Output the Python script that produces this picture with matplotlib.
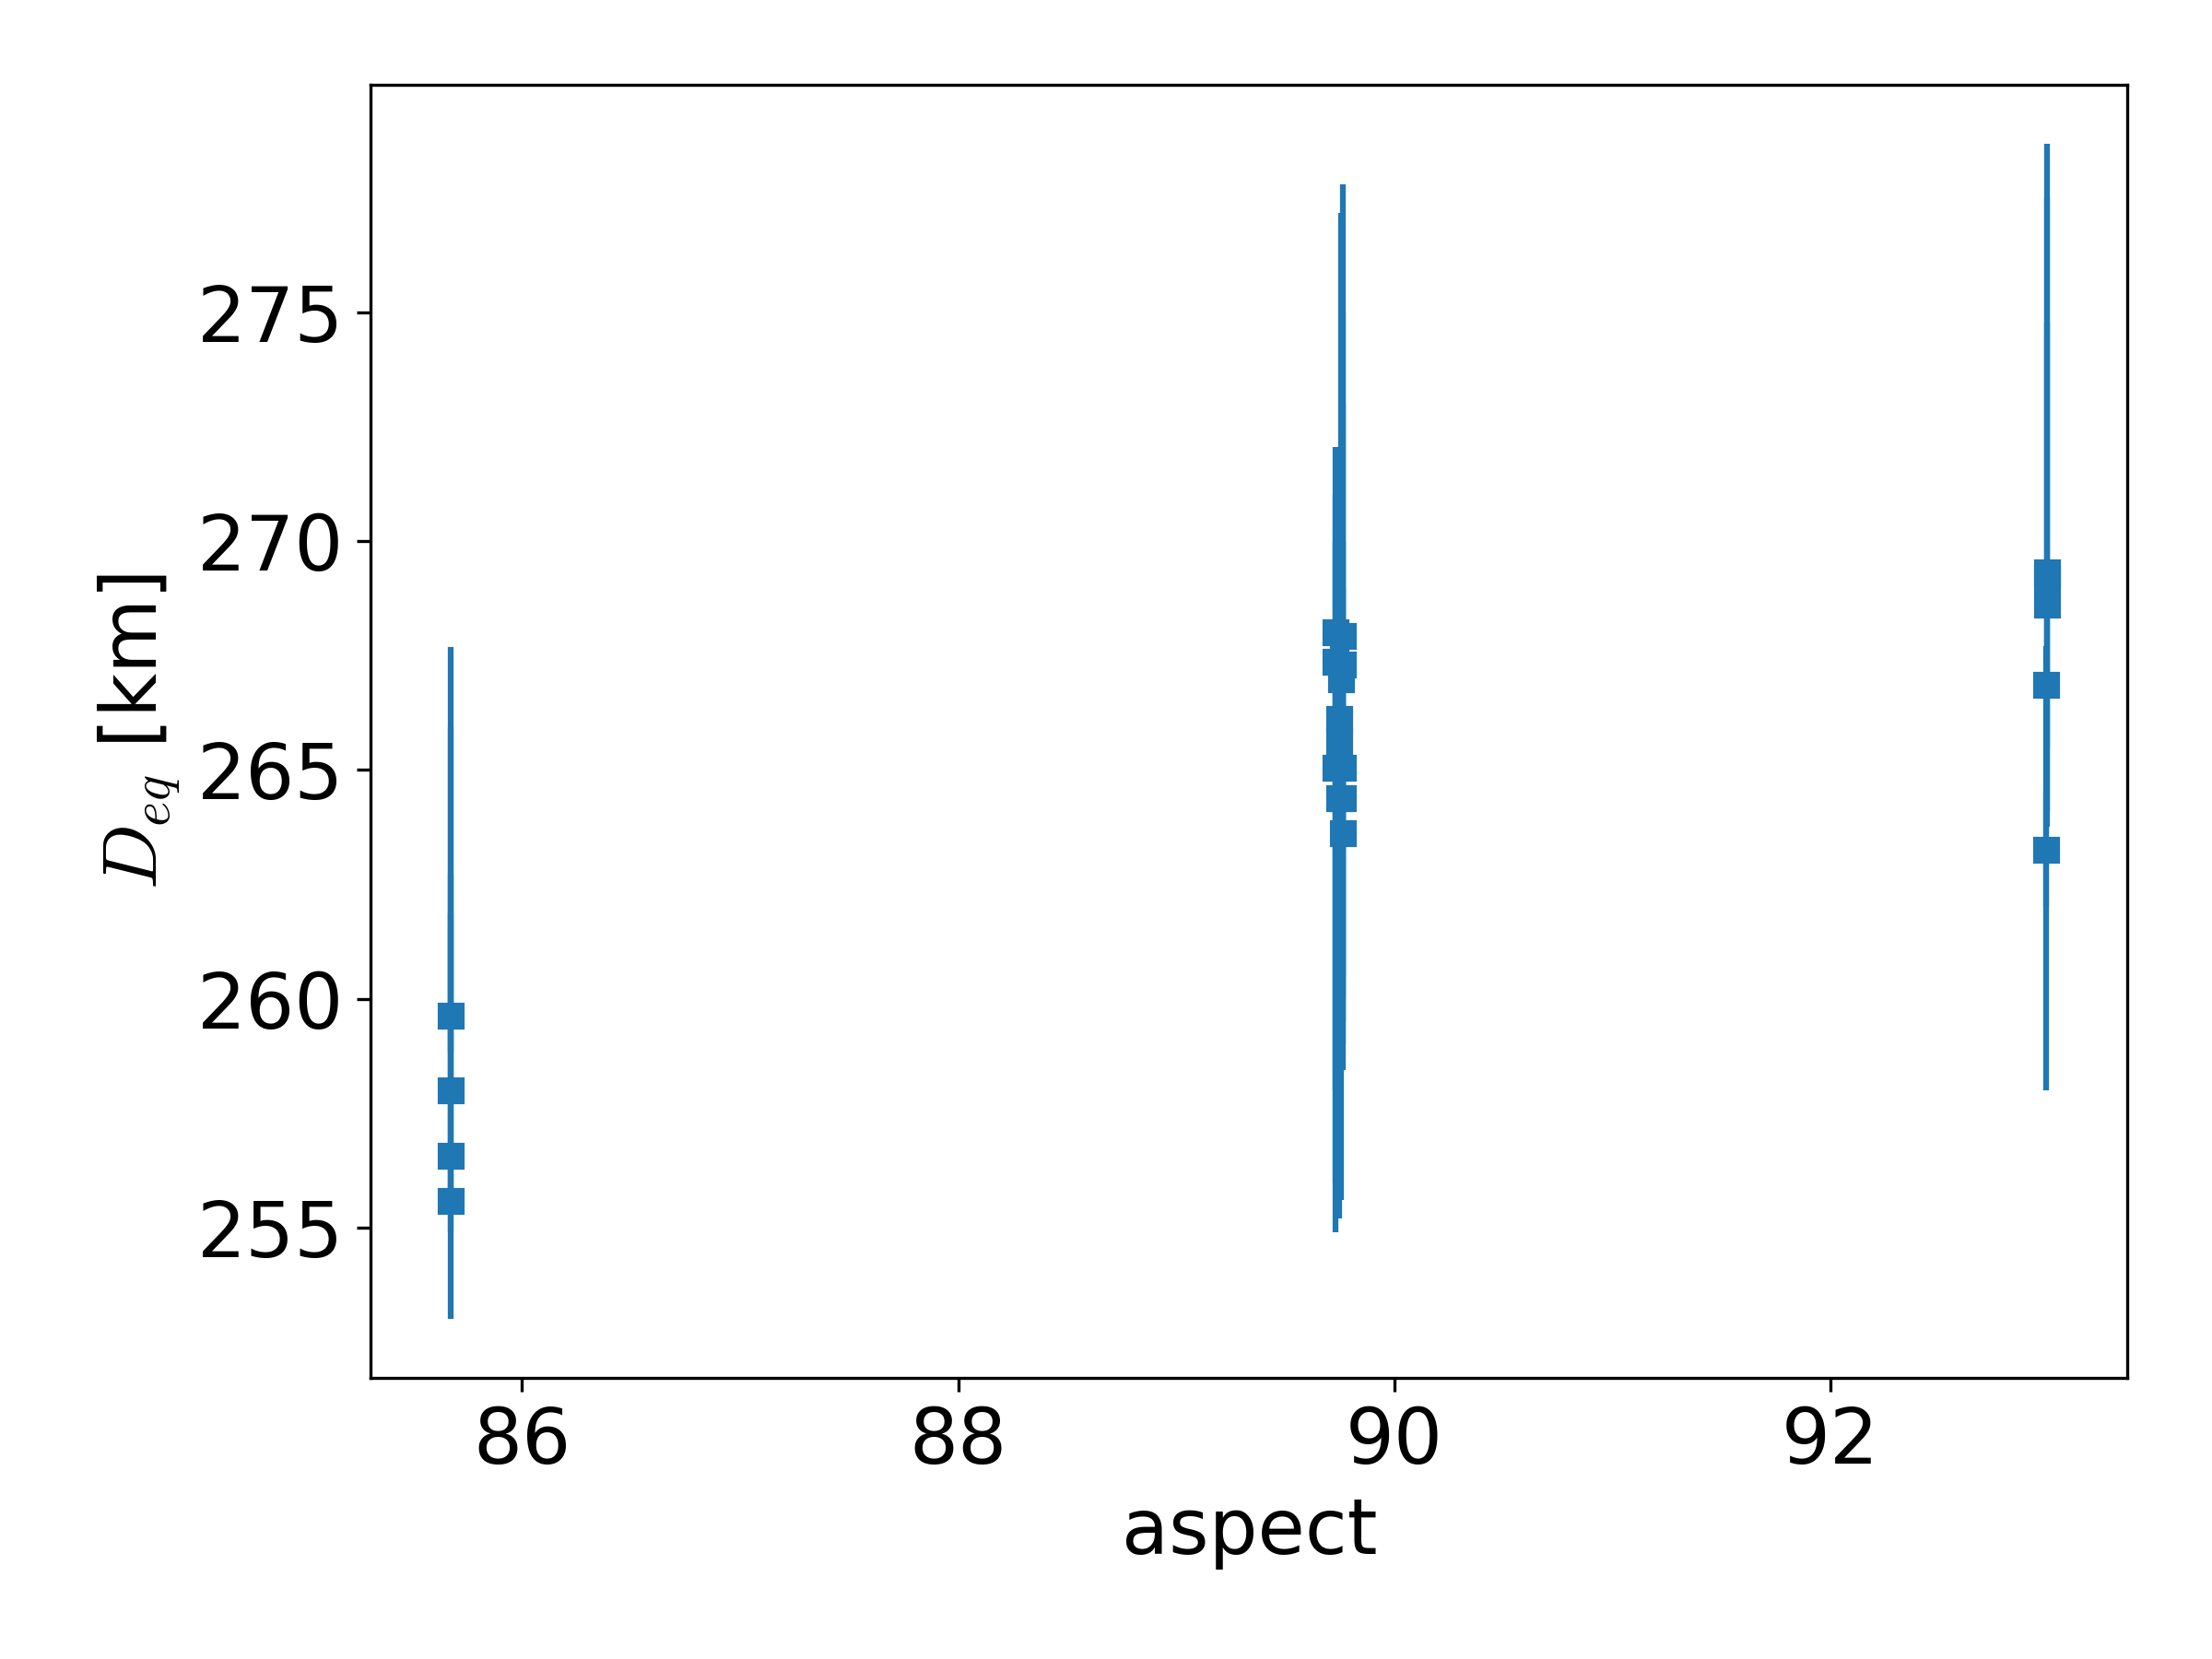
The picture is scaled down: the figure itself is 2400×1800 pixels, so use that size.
"""Equivalent diameter against aspect angle, with asymmetric error bars."""

import matplotlib

matplotlib.use("Agg")
import matplotlib.pyplot as plt
import numpy as np

plt.rcParams["mathtext.fontset"] = "cm"
plt.rcParams["font.size"] = 20

# three aspect groups
aspect = [
    85.673, 85.673, 85.673, 85.673,
    89.732, 89.732, 89.732,
    89.749, 89.749, 89.749,
    89.757,
    89.764, 89.764, 89.764, 89.764, 89.764,
    92.996, 92.996, 92.996, 92.991, 92.991,
]
d_eq = [
    259.64, 258.01, 256.57, 255.59,
    268.00, 267.37, 265.05,
    266.12, 265.63, 264.39,
    266.99,
    267.93, 267.31, 265.05, 264.39, 263.61,
    269.32, 269.20, 268.61, 266.86, 263.26,
]
d_low = [
    258.84, 253.00, 254.91, 255.30,
    254.90, 256.00, 258.00,
    255.20, 256.50, 257.50,
    255.60,
    258.45, 260.00, 259.00, 260.50, 259.50,
    263.76, 264.10, 265.50, 262.00, 258.01,
]
d_high = [
    267.69, 265.93, 262.73, 261.86,
    272.05, 270.00, 271.00,
    270.50, 269.00, 268.00,
    277.18,
    277.80, 275.00, 273.00, 270.00, 269.00,
    278.69, 277.49, 274.77, 267.71, 264.50,
]

y = np.array(d_eq)
yerr = [y - np.array(d_low), np.array(d_high) - y]

fig, ax = plt.subplots(figsize=(8, 6), dpi=300)
fig.subplots_adjust(left=0.1677, right=0.9617, top=0.949, bottom=0.1694)

ax.errorbar(aspect, y, yerr=yerr, fmt="s", color="#1f77b4")

ax.set_xticks([86, 88, 90, 92])
ax.set_yticks([255, 260, 265, 270, 275])
ax.set_xlabel("aspect")
ax.set_ylabel(r"$D_{eq}$ [km]")

fig.savefig("out.png", dpi=300)
